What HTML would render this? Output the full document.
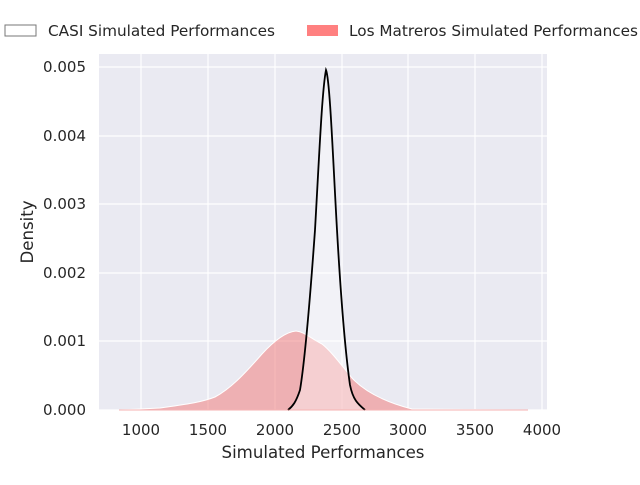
<!DOCTYPE html>
<html><head><style>
body{margin:0;background:#fff;font-family:"Liberation Sans","DejaVu Sans",sans-serif;}
</style></head><body>
<svg width="640" height="480" xmlns="http://www.w3.org/2000/svg" font-family="DejaVu Sans, Liberation Sans, sans-serif">
<rect x="0" y="0" width="640" height="480" fill="#fff"/>
<rect x="99" y="54" width="448" height="356" fill="#eaeaf2"/>
<g stroke="#fff" stroke-width="1.2">
<line x1="141" y1="54" x2="141" y2="410"/><line x1="208" y1="54" x2="208" y2="410"/>
<line x1="275" y1="54" x2="275" y2="410"/><line x1="342" y1="54" x2="342" y2="410"/>
<line x1="408" y1="54" x2="408" y2="410"/><line x1="475" y1="54" x2="475" y2="410"/>
<line x1="542" y1="54" x2="542" y2="410"/>
<line x1="99" y1="410" x2="547" y2="410"/><line x1="99" y1="341" x2="547" y2="341"/>
<line x1="99" y1="273" x2="547" y2="273"/><line x1="99" y1="204" x2="547" y2="204"/>
<line x1="99" y1="136" x2="547" y2="136"/><line x1="99" y1="67" x2="547" y2="67"/>
</g>
<path d="M119,410 L160,408 C180,405 200,403 215,397 C232,388 248,370 262,354 C273,342 285,332 296,331 C305,332 310,338 322,344 C332,352 342,366 352,378 C365,392 385,402 412,409 L528,410 Z" fill="#f08080" fill-opacity="0.55" stroke="#fff" stroke-width="1"/>
<path d="M288,410 C293,406 296,402 300,390 C305,360 310,300 315,230 C319,160 322,90 326,70 C330,80 333,160 337,230 C341,300 345,350 350,385 C353,400 358,404 365,410 Z" fill="#fff" fill-opacity="0.4" stroke="none"/>
<path d="M288,410 C293,406 296,402 300,390 C305,360 310,300 315,230 C319,160 322,90 326,70 C330,80 333,160 337,230 C341,300 345,350 350,385 C353,400 358,404 365,410" fill="none" stroke="#000" stroke-width="1.8"/>
<line x1="119" y1="410" x2="528" y2="410" stroke="#f08080" stroke-width="1" opacity="0.6"/>
<g font-size="15" fill="#262626" text-anchor="end">
<text x="86" y="415">0.000</text><text x="86" y="346">0.001</text><text x="86" y="278">0.002</text>
<text x="86" y="209">0.003</text><text x="86" y="141">0.004</text><text x="86" y="72">0.005</text>
</g>
<g font-size="15" fill="#262626" text-anchor="middle">
<text x="141" y="435">1000</text><text x="208" y="435">1500</text><text x="275" y="435">2000</text>
<text x="342" y="435">2500</text><text x="408" y="435">3000</text><text x="475" y="435">3500</text>
<text x="542" y="435">4000</text>
<text x="323" y="458" font-size="16.6">Simulated Performances</text>
</g>
<text transform="translate(33,232) rotate(-90)" font-size="16.6" fill="#262626" text-anchor="middle">Density</text>
<rect x="5" y="25" width="31" height="11" fill="#fff" stroke="#777" stroke-width="1"/>
<text x="48" y="36" font-size="15" fill="#262626" textLength="227" lengthAdjust="spacingAndGlyphs">CASI Simulated Performances</text>
<rect x="307" y="25" width="31" height="11" fill="#ff8080"/>
<text x="349" y="36" font-size="15" fill="#262626" textLength="289" lengthAdjust="spacingAndGlyphs">Los Matreros Simulated Performances</text>
</svg>
</body></html>
